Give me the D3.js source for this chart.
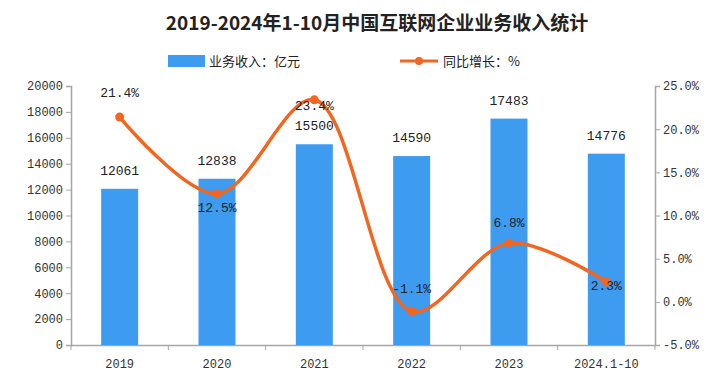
<!DOCTYPE html>
<html><head><meta charset="utf-8">
<script src="https://cdn.jsdelivr.net/npm/d3@7"></script>
<style>body{margin:0;background:#fff}svg{display:block}</style>
</head><body><svg id="c" width="727" height="381"></svg>
<script>
const categories = ["2019","2020","2021","2022","2023","2024.1-10"];
const revenue = [12061,12838,15500,14590,17483,14776];
const growth = [21.4,12.5,23.4,-1.1,6.8,2.3];
const leftTicks = [0,2000,4000,6000,8000,10000,12000,14000,16000,18000,20000];
const rightTicks = [-5,0,5,10,15,20,25];
const growthLabelDy = [-24, 14, 6, -22, -20, 4];

const svg = d3.select("#c");
const W=727,H=381, L=71, R=655, T=86, B=345;
const font = "'Liberation Mono','DejaVu Sans Mono','Noto Sans CJK SC',monospace";
const cjk = "'Noto Sans CJK SC',sans-serif";
const barColor = "#3d9bf0", lineColor = "#f3661f", axisColor="#a6a6a6";

const x = d3.scaleBand().domain(categories).range([L,R]).paddingInner(0.62).paddingOuter(0.31);
const xb = d3.scaleBand().domain(categories).range([L,R]);
const yL = d3.scaleLinear().domain([0,20000]).range([B,T]);
const yR = d3.scaleLinear().domain([-5,25]).range([B,T]);

svg.append("text").attr("x",377).attr("y",30).attr("text-anchor","middle")
  .attr("font-family",cjk).attr("font-weight","bold").attr("font-size",19).attr("fill","#222")
  .text("2019-2024年1-10月中国互联网企业业务收入统计");

// legend
svg.append("rect").attr("x",168).attr("y",55).attr("width",37).attr("height",12).attr("fill",barColor);
svg.append("text").attr("x",209).attr("y",66).attr("font-family",cjk).attr("font-size",13).attr("fill","#222").text("业务收入：亿元");
svg.append("line").attr("x1",400).attr("x2",438).attr("y1",61).attr("y2",61).attr("stroke",lineColor).attr("stroke-width",3);
svg.append("circle").attr("cx",419).attr("cy",61).attr("r",4).attr("fill",lineColor);
svg.append("text").attr("x",443).attr("y",66).attr("font-family",cjk).attr("font-size",13).attr("fill","#222").text("同比增长：%");

// axes
const gL = svg.append("g").attr("transform",`translate(${L},0)`)
  .call(d3.axisLeft(yL).tickValues(leftTicks).tickSize(5).tickPadding(3).tickFormat(d3.format("d")));
const gR = svg.append("g").attr("transform",`translate(${R},0)`)
  .call(d3.axisRight(yR).tickValues(rightTicks).tickSize(5).tickPadding(3).tickFormat(d=>d.toFixed(1)+"%"));
const gX = svg.append("g").attr("transform",`translate(0,${B})`)
  .call(d3.axisBottom(xb).tickSize(0).tickPadding(14));
gX.selectAll(".xb").data(d3.range(categories.length+1)).enter().append("line").attr("class","xb")
  .attr("x1",i=>L+i*xb.step()).attr("x2",i=>L+i*xb.step()).attr("y1",0).attr("y2",5).attr("stroke",axisColor);
[gL,gR,gX].forEach(g=>{
  g.selectAll("path.domain").attr("stroke",axisColor).attr("stroke-width",1.5);
  g.selectAll(".tick line").attr("stroke",axisColor);
  g.selectAll("text").attr("font-family",font).attr("font-size",12).attr("fill","#333");
});

// bars
svg.append("g").selectAll("rect").data(revenue).enter().append("rect")
  .attr("x",(d,i)=>x(categories[i])).attr("width",x.bandwidth())
  .attr("y",d=>yL(d)).attr("height",d=>B-yL(d)).attr("fill",barColor);
svg.append("g").selectAll("text").data(revenue).enter().append("text")
  .attr("x",(d,i)=>x(categories[i])+x.bandwidth()/2).attr("y",d=>yL(d)-14)
  .attr("text-anchor","middle").attr("font-family",font).attr("font-size",13).attr("fill","#222").text(d=>d);

// line
const cx = i=>xb(categories[i])+xb.bandwidth()/2;
const line = d3.line().x((d,i)=>cx(i)).y(d=>yR(d)).curve(d3.curveCatmullRom.alpha(0.5));
svg.append("path").datum(growth).attr("d",line).attr("fill","none").attr("stroke",lineColor).attr("stroke-width",3.5);
svg.append("g").selectAll("circle").data(growth).enter().append("circle")
  .attr("cx",(d,i)=>cx(i)).attr("cy",d=>yR(d)).attr("r",4.5).attr("fill",lineColor);
svg.append("g").selectAll("text").data(growth).enter().append("text")
  .attr("x",(d,i)=>cx(i)).attr("y",(d,i)=>yR(d)+growthLabelDy[i]+4)
  .attr("text-anchor","middle").attr("font-family",font).attr("font-size",13).attr("fill","#222")
  .text(d=>d.toFixed(1)+"%");
</script></body></html>
